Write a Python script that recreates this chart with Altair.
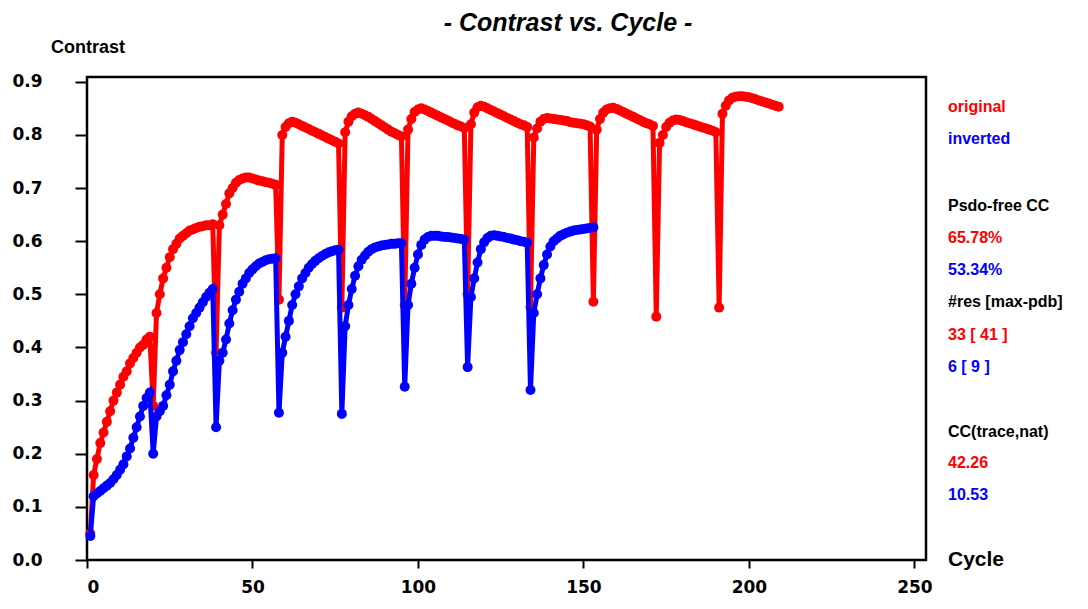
import altair as alt
import pandas as pd

# ---------------- data ----------------
cycles_original = list(range(1, 210))
original = [
    0.05, 0.16, 0.19, 0.22, 0.24, 0.26, 0.28, 0.30, 0.315, 0.33, 0.345, 0.355, 0.37, 0.38, 0.39, 0.40, 0.405, 0.415, 0.42, 0.29,
    0.465, 0.50, 0.53, 0.55, 0.57, 0.585, 0.595, 0.605, 0.61, 0.615, 0.62, 0.622, 0.625, 0.627, 0.628, 0.63, 0.63, 0.632, 0.39,
    0.63, 0.65, 0.67, 0.69, 0.70, 0.71, 0.715, 0.718, 0.72, 0.72, 0.718, 0.716, 0.714, 0.713, 0.711, 0.71, 0.708, 0.706, 0.49,
    0.80, 0.815, 0.822, 0.825, 0.823, 0.82, 0.817, 0.814, 0.811, 0.808, 0.805, 0.802, 0.799, 0.796, 0.793, 0.79, 0.787, 0.784, 0.475,
    0.805, 0.825, 0.835, 0.84, 0.842, 0.84, 0.837, 0.834, 0.83, 0.826, 0.822, 0.818, 0.814, 0.81, 0.806, 0.803, 0.80, 0.797, 0.48,
    0.81, 0.83, 0.843, 0.848, 0.85, 0.848, 0.845, 0.842, 0.839, 0.836, 0.833, 0.83, 0.827, 0.824, 0.821, 0.818, 0.816, 0.813, 0.50,
    0.82, 0.842, 0.852, 0.855, 0.853, 0.85, 0.847, 0.844, 0.841, 0.838, 0.835, 0.832, 0.829, 0.826, 0.823, 0.82, 0.818, 0.815, 0.476,
    0.795, 0.812, 0.825, 0.83, 0.832, 0.831, 0.83, 0.829, 0.828, 0.827, 0.826, 0.824, 0.823, 0.822, 0.821, 0.82, 0.818, 0.816, 0.486,
    0.81, 0.83, 0.842, 0.848, 0.85, 0.851, 0.849, 0.846, 0.843, 0.84, 0.837, 0.834, 0.831, 0.828, 0.825, 0.822, 0.82, 0.817, 0.458,
    0.785, 0.80, 0.815, 0.823, 0.827, 0.829, 0.828, 0.826, 0.824, 0.822, 0.82, 0.818, 0.816, 0.814, 0.812, 0.81, 0.808, 0.805, 0.475,
    0.84, 0.855, 0.865, 0.87, 0.872, 0.873, 0.873, 0.872, 0.871, 0.869, 0.867, 0.865, 0.863, 0.861, 0.859, 0.857, 0.855, 0.853,
]
cycles_inverted = list(range(1, 154))
inverted = [
    0.045, 0.12, 0.125, 0.13, 0.135, 0.14, 0.145, 0.152, 0.16, 0.17, 0.18, 0.195, 0.21, 0.23, 0.25, 0.27, 0.29, 0.305, 0.315, 0.20,
    0.27, 0.28, 0.29, 0.31, 0.33, 0.355, 0.375, 0.395, 0.41, 0.425, 0.44, 0.455, 0.465, 0.475, 0.485, 0.495, 0.503, 0.51, 0.25,
    0.375, 0.39, 0.415, 0.445, 0.47, 0.49, 0.505, 0.52, 0.53, 0.54, 0.547, 0.553, 0.558, 0.561, 0.564, 0.566, 0.567, 0.568, 0.277,
    0.39, 0.42, 0.45, 0.48, 0.50, 0.515, 0.53, 0.54, 0.55, 0.557, 0.563, 0.568, 0.572, 0.576, 0.579, 0.581, 0.583, 0.584, 0.275,
    0.44, 0.48, 0.51, 0.535, 0.553, 0.565, 0.573, 0.58, 0.585, 0.588, 0.59, 0.592, 0.593, 0.594, 0.595, 0.595, 0.596, 0.596, 0.326,
    0.48, 0.52, 0.55, 0.575, 0.593, 0.603, 0.608, 0.61, 0.61, 0.61, 0.609, 0.608, 0.608, 0.607, 0.606, 0.605, 0.604, 0.603, 0.363,
    0.495, 0.53, 0.56, 0.585, 0.598, 0.606, 0.61, 0.611, 0.61, 0.609, 0.608, 0.606, 0.605, 0.603, 0.602, 0.60, 0.599, 0.597, 0.32,
    0.465, 0.50, 0.53, 0.555, 0.575, 0.59, 0.60, 0.605, 0.61, 0.613, 0.616, 0.618, 0.62, 0.621, 0.622, 0.623, 0.624, 0.625, 0.626,
]
x_ticks = [0, 50, 100, 150, 200, 250]
y_ticks = [0.0, 0.1, 0.2, 0.3, 0.4, 0.5, 0.6, 0.7, 0.8, 0.9]

title_text = "- Contrast vs. Cycle -"
y_title = "Contrast"
x_title = "Cycle"
series_names = ["original", "inverted"]
stat1_title = "Psdo-free CC"
stat1_values = ["65.78%", "53.34%"]
stat2_title = "#res [max-pdb]"
stat2_values = ["33  [ 41 ]", "6  [ 9 ]"]
stat3_title = "CC(trace,nat)"
stat3_values = ["42.26", "10.53"]

# ---------------- styling ----------------
RED = "#ff0000"
BLUE = "#0000ff"
W, H = 839, 483
SANS = "Liberation Sans"
TICKFONT = "DejaVu Sans"

df_o = pd.DataFrame({"Cycle": cycles_original, "Contrast": original})
df_i = pd.DataFrame({"Cycle": cycles_inverted, "Contrast": inverted})

x_enc = alt.X("Cycle:Q",
              scale=alt.Scale(domain=[0, 253.5], nice=False, zero=False),
              axis=alt.Axis(values=x_ticks, title=None, format="d",
                            tickSize=8, labelPadding=11))
y_enc = alt.Y("Contrast:Q",
              scale=alt.Scale(domain=[0, 0.909], nice=False, zero=False),
              axis=alt.Axis(values=y_ticks, title=None, format=".1f",
                            tickSize=12, labelPadding=33))


def series(df, color):
    base = alt.Chart(df).encode(x=x_enc, y=y_enc)
    line = base.mark_line(color=color, strokeWidth=5)
    pts = base.mark_circle(color=color, size=100, opacity=1)
    return line + pts


def label(text, px, py, color="black", size=16, style="normal", align="left", font=SANS):
    return alt.Chart(pd.DataFrame({"t": [text]})).mark_text(
        align=align, baseline="middle", fontSize=size, fontWeight="bold",
        fontStyle=style, font=font, color=color
    ).encode(text="t:N", x=alt.value(px), y=alt.value(py))


LX = 861
texts = [
    label(title_text, 481, -54, size=25, style="italic", align="center"),
    label(y_title, 1, -29, size=18, align="center"),
    label(series_names[0], LX, 30, RED),
    label(series_names[1], LX, 62, BLUE),
    label(stat1_title, LX, 129),
    label(stat1_values[0], LX, 161, RED),
    label(stat1_values[1], LX, 193, BLUE),
    label(stat2_title, LX, 225),
    label(stat2_values[0], LX, 258, RED),
    label(stat2_values[1], LX, 290, BLUE),
    label(stat3_title, LX, 355),
    label(stat3_values[0], LX, 386, RED),
    label(stat3_values[1], LX, 418, BLUE),
    label(x_title, LX, 483, size=21),
]

chart = alt.layer(series(df_o, RED), series(df_i, BLUE), *texts).properties(
    width=W, height=H,
    padding={"left": 79, "top": 69, "right": 150, "bottom": 38},
    autosize=alt.AutoSizeParams(type="none"),
).configure_view(
    stroke="black", strokeWidth=2.5
).configure_axis(
    domain=False, grid=False, tickColor="black", tickWidth=2,
    labelFont=TICKFONT, labelFontSize=17, labelFontWeight="bold", labelColor="black",
)

chart.save("out.html", embed_options={"renderer": "svg", "actions": False})
